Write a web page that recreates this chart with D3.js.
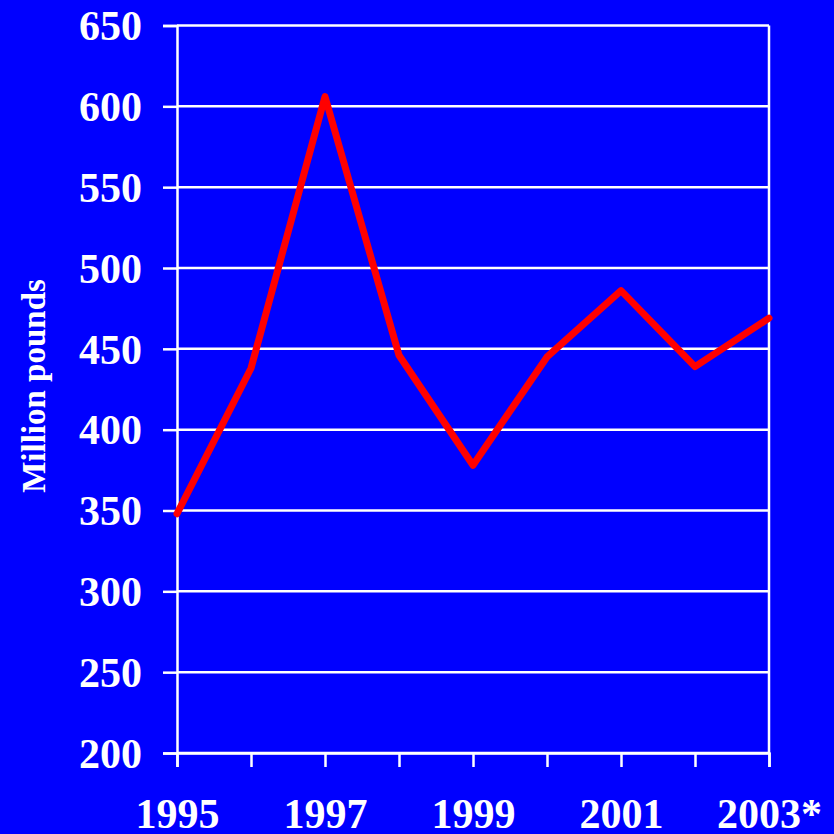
<!DOCTYPE html>
<html>
<head>
<meta charset="utf-8">
<script src="https://cdn.jsdelivr.net/npm/d3@7/dist/d3.min.js"></script>
<style>
  html, body { margin: 0; padding: 0; background: #0000ff; }
  svg { display: block; }
  text { font-family: "Liberation Serif", "Times New Roman", serif; font-weight: bold; fill: #ffffff; }
</style>
</head>
<body>
<svg id="chart" width="834" height="834"></svg>
<script>
// Annual values, million pounds
const years = ["1995", "1996", "1997", "1998", "1999", "2000", "2001", "2002", "2003"];
const yearLabels = ["1995", "", "1997", "", "1999", "", "2001", "", "2003*"];
const values = [348, 438, 606, 446, 378, 445, 486, 439, 469];
const yTicks = [200, 250, 300, 350, 400, 450, 500, 550, 600, 650];

const W = 834, H = 834;
const plot = { left: 177, right: 769, top: 25.5, bottom: 753 };

const svg = d3.select("#chart");
svg.append("rect").attr("width", W).attr("height", H).attr("fill", "#0000ff");

const x = d3.scalePoint().domain(years).range([plot.left, plot.right]);
const y = d3.scaleLinear().domain([200, 650]).range([plot.bottom, plot.top]);

// horizontal gridlines
svg.append("g")
  .selectAll("line")
  .data(yTicks)
  .join("line")
  .attr("x1", plot.left).attr("x2", plot.right)
  .attr("y1", d => y(d)).attr("y2", d => y(d))
  .attr("stroke", "#ffffff").attr("stroke-width", 2.5);

// right frame edge
svg.append("line")
  .attr("x1", plot.right).attr("x2", plot.right)
  .attr("y1", y(650)).attr("y2", y(200))
  .attr("stroke", "#ffffff").attr("stroke-width", 2.5);

// y axis
const yAxis = svg.append("g")
  .attr("transform", `translate(${plot.left},0)`)
  .call(d3.axisLeft(y).tickValues(yTicks).tickSize(14).tickPadding(21).tickFormat(d3.format("d")));
yAxis.select(".domain").attr("stroke", "#ffffff").attr("stroke-width", 2.5);
yAxis.selectAll(".tick line").attr("stroke", "#ffffff").attr("stroke-width", 2.5);
yAxis.selectAll(".tick text")
  .attr("fill", "#ffffff")
  .style("font-family", "'Liberation Serif', 'Times New Roman', serif")
  .style("font-weight", "bold")
  .style("font-size", "42px")
  .attr("dy", "0.34em");

// x axis
const xAxis = svg.append("g")
  .attr("transform", `translate(0,${plot.bottom})`)
  .call(d3.axisBottom(x).tickSize(14).tickPadding(31).tickFormat((d, i) => yearLabels[i]));
xAxis.select(".domain").attr("stroke", "#ffffff").attr("stroke-width", 2.5);
xAxis.selectAll(".tick line").attr("stroke", "#ffffff").attr("stroke-width", 2.5);
xAxis.selectAll(".tick text")
  .attr("fill", "#ffffff")
  .style("font-family", "'Liberation Serif', 'Times New Roman', serif")
  .style("font-weight", "bold")
  .style("font-size", "42px");

// y axis title
svg.append("text")
  .attr("transform", `translate(45,386) rotate(-90)`)
  .attr("text-anchor", "middle")
  .style("font-size", "33px")
  .text("Million pounds");

// series line
const line = d3.line()
  .x((d, i) => x(years[i]))
  .y(d => y(d));

svg.append("path")
  .datum(values)
  .attr("d", line)
  .attr("fill", "none")
  .attr("stroke", "#ff0000")
  .attr("stroke-width", 7)
  .attr("stroke-linejoin", "round")
  .attr("stroke-linecap", "round");
</script>
</body>
</html>
